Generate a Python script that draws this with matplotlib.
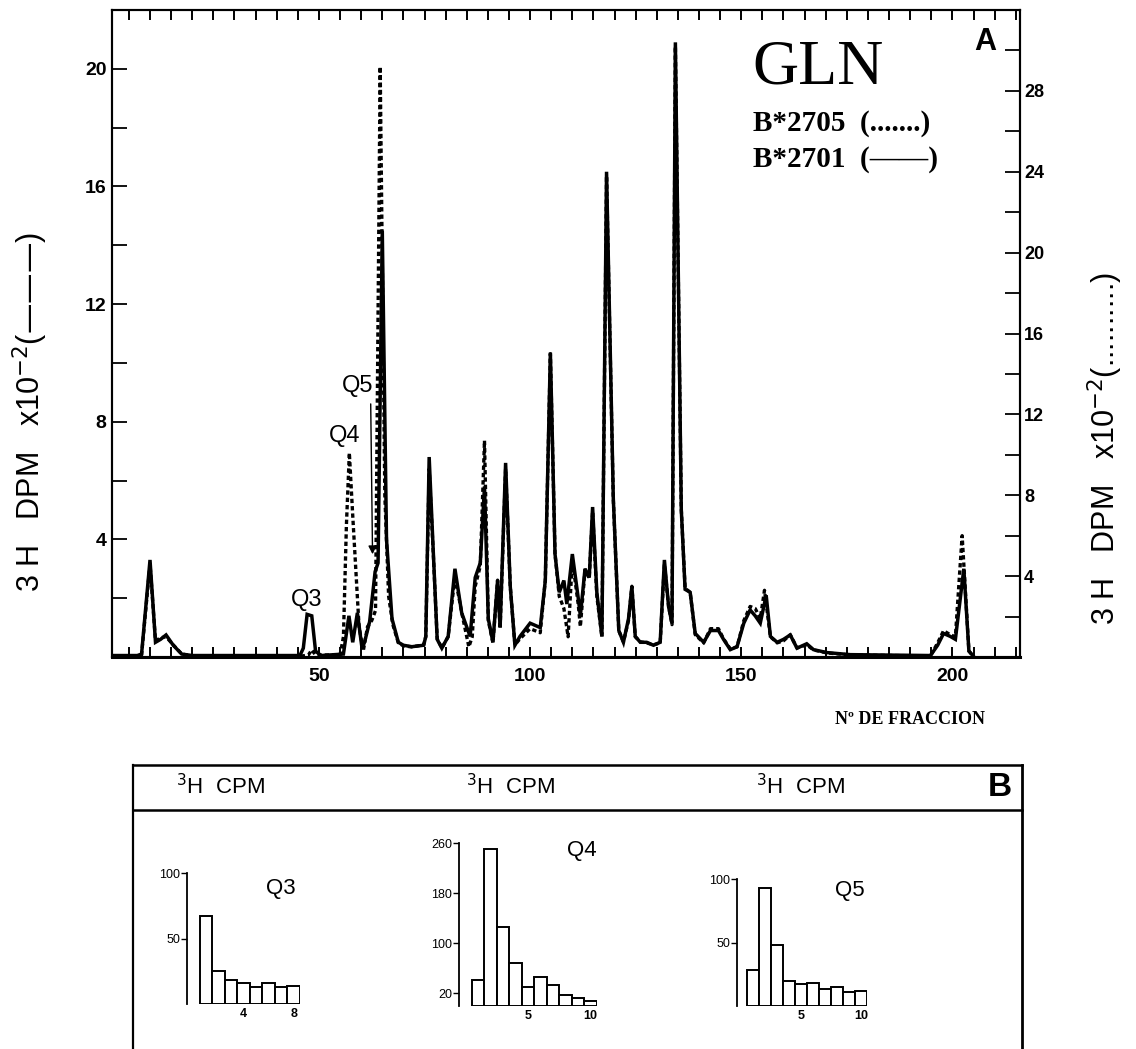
import numpy as np
import matplotlib.pyplot as plt
from matplotlib.lines import Line2D

# solid curve B*2701 (left axis, DPM x10^-2)
frac_solid = [1, 7, 8, 10, 11.3, 12.5, 13.8, 15.5, 17.5, 20, 45.5, 46.3, 47.2, 48.3, 49.2, 50.5,
              55.8, 56.6, 57.1, 58, 59.1, 60.2, 60.8, 62, 63.3, 64, 65, 66, 67.3, 68.8, 70, 72,
              74.8, 75.3, 76.1, 77.1, 78, 79.1, 80.6, 82.2, 83.8, 85.8, 87, 88.2, 89.2, 90.1,
              91.2, 92.3, 92.9, 94.2, 95.3, 96.4, 97.6, 100, 102.4, 103.6, 104.8, 105.9, 106.9,
              108, 108.7, 110, 111.4, 111.9, 113, 114, 114.8, 115.8, 117, 118.1, 119.7, 121,
              122.1, 123.3, 124.1, 124.9, 126.1, 127.6, 129.2, 130.8, 131.8, 132.8, 133.6, 134.4,
              135.8, 136.7, 137.9, 139.1, 141.1, 142.7, 144.6, 145.8, 147.4, 149, 150.6, 152.1,
              153.3, 154.5, 155.9, 156.9, 158.5, 160, 161.6, 163.2, 165.5, 167.1, 170.3, 175.8,
              194.8, 196.5, 197.9, 199.5, 200.7, 202.7, 203.9, 205]
val_solid = [0.05, 0.05, 0.1, 3.3, 0.5, 0.6, 0.75, 0.4, 0.1, 0.05, 0.05, 0.3, 1.45, 1.4, 0.2, 0.05,
             0.1, 0.9, 1.4, 0.5, 1.5, 0.3, 0.5, 1.2, 2.9, 3.2, 14.5, 4.0, 1.3, 0.5, 0.4, 0.35,
             0.4, 0.7, 6.8, 3.5, 0.6, 0.3, 0.7, 3.0, 1.5, 0.7, 2.7, 3.2, 5.8, 1.3,
             0.5, 2.6, 1.0, 6.6, 2.4, 0.4, 0.7, 1.15, 1.0, 2.6, 10.35, 3.5, 2.2,
             2.6, 1.8, 3.5, 2.0, 1.4, 3.0, 2.7, 5.1, 2.2, 0.7, 16.5, 5.4, 0.9,
             0.5, 1.3, 2.4, 0.7, 0.5, 0.5, 0.4, 0.5, 3.3, 1.7, 1.15, 20.9,
             5.0, 2.3, 2.2, 0.8, 0.5, 0.9, 0.9, 0.6, 0.25, 0.35, 1.15, 1.6,
             1.4, 1.15, 2.1, 0.7, 0.5, 0.6, 0.75, 0.3, 0.45, 0.25, 0.15, 0.08,
             0.05, 0.4, 0.8, 0.7, 0.6, 3.0, 0.2, 0.02]

# dotted curve B*2705 (right axis, DPM x10^-2)
frac_dot = [1, 7, 8, 10, 11.3, 12.5, 13.8, 15.5, 17.5, 20, 46, 47.5, 48.3, 49.2, 55, 55.8, 56.5,
            57.2, 58, 59.5, 60.5, 61.5, 62.5, 63.4, 64.5, 65.6, 66.5, 67.5, 68.8, 70, 72, 74.8,
            75.3, 76.1, 77.1, 78, 79.1, 80.6, 82.2, 83.8, 85.5, 86.3, 87, 88.2, 89.2, 90.1,
            91.2, 92.3, 92.9, 94.2, 95.3, 96.4, 97.6, 100, 102.4, 103.6, 104.8, 105.9, 106.9,
            108, 109, 110, 111.4, 111.9, 113, 114, 114.8, 115.8, 117, 118.1, 119.7, 121,
            122.1, 123.3, 124.1, 124.9, 126.1, 127.6, 129.2, 130.8, 131.8, 132.8, 133.6, 134.4,
            135.8, 136.7, 137.9, 139.1, 141.1, 142.7, 144.6, 145.8, 147.4, 149, 150.6, 152.1,
            153.3, 154.5, 155.5, 156.9, 158.5, 160, 161.6, 163.2, 165.5, 167.1, 170.3, 175.8,
            194.8, 196.5, 197.9, 199.5, 200.7, 202.3, 203.9, 205]
val_dot = [0.05, 0.05, 0.1, 4.6, 0.8, 0.95, 1.0, 0.6, 0.15, 0.05, 0.05, 0.1, 0.35, 0.1, 0.1, 1.0, 6.5,
           10.1, 7.0, 1.5, 0.3, 1.5, 1.8, 2.3, 29.2, 8.0, 3.0, 1.6, 0.7, 0.55, 0.5, 0.6,
           1.0, 9.3, 5.0, 0.9, 0.45, 1.0, 4.0, 2.2, 0.5, 1.0, 3.5, 4.5, 10.7, 1.8,
           0.7, 3.8, 1.4, 9.3, 3.5, 0.6, 0.9, 1.4, 1.2, 3.8, 15.0, 5.1, 3.0,
           2.4, 1.0, 4.8, 2.6, 1.5, 4.3, 3.9, 7.2, 3.0, 1.0, 23.8, 7.8, 1.3,
           0.75, 1.8, 3.5, 1.0, 0.75, 0.7, 0.6, 0.7, 4.6, 2.5, 1.6, 30.2,
           7.3, 3.4, 3.2, 1.1, 0.7, 1.4, 1.4, 0.9, 0.4, 0.5, 1.8, 2.5,
           2.4, 1.9, 3.3, 1.0, 0.7, 0.8, 1.1, 0.45, 0.6, 0.35, 0.2, 0.1,
           0.05, 0.7, 1.3, 1.1, 1.0, 6.0, 0.3, 0.02]

# panel B histograms (3H CPM per fraction)
q3_cpm = [67, 25, 18, 16, 13, 16, 13, 14]
q4_cpm = [42, 250, 126, 68, 31, 47, 33, 17, 12, 8]
q5_cpm = [28, 93, 48, 20, 17, 18, 13, 15, 11, 12]

W, H = 1136, 1049
fig = plt.figure(figsize=(W / 100, H / 100), dpi=100)
sans = 'Liberation Sans'
serif = 'Liberation Serif'


def px_axes(x0, y0, x1, y1):
    return fig.add_axes([x0 / W, 1 - y1 / H, (x1 - x0) / W, (y1 - y0) / H])


def fig_line(xs, ys, lw=1.6):
    fig.add_artist(Line2D([x / W for x in xs], [1 - y / H for y in ys],
                          transform=fig.transFigure, color='k', lw=lw))


# ---- panel A ----
ax = px_axes(112, 10, 1020, 657)
ax.plot(frac_solid, val_solid, color='k', lw=2.5, solid_joinstyle='miter')
ax.set_xlim(1, 216)
ax.set_ylim(0, 22)
ax2 = ax.twinx()
ax2.plot(frac_dot, val_dot, color='k', lw=2.4, linestyle=(0, (1.3, 0.9)))
ax2.set_ylim(0, 32)

xt = np.arange(5, 216, 5)
ax.set_xticks(xt)
ax.set_xticklabels([str(t) if t % 50 == 0 else '' for t in xt],
                   fontfamily=sans, fontweight='bold', fontsize=14)
ax.tick_params(axis='x', direction='in', length=7, width=1.4, top=True, pad=8)
yt = np.arange(2, 22, 2)
ax.set_yticks(yt)
ax.set_yticklabels([str(t) if t % 4 == 0 else '' for t in yt],
                   fontfamily=sans, fontweight='bold', fontsize=14)
ax.tick_params(axis='y', direction='in', length=11, width=1.3, pad=4)
yt2 = np.arange(2, 32, 2)
ax2.set_yticks(yt2)
ax2.set_yticklabels([str(t) if t % 4 == 0 and t < 30 else '' for t in yt2],
                    fontfamily=sans, fontweight='bold', fontsize=13)
ax2.tick_params(axis='y', direction='in', length=11, width=1.3, pad=3)
for a in (ax, ax2):
    for s in a.spines.values():
        s.set_linewidth(1.5)
ax.spines['bottom'].set_linewidth(2.2)

ax.text(47.2, 1.95, 'Q3', fontfamily=sans, fontsize=17, ha='center', va='center')
ax.text(56.2, 7.5, 'Q4', fontfamily=sans, fontsize=17, ha='center', va='center')
ax.text(59.2, 9.2, 'Q5', fontfamily=sans, fontsize=17, ha='center', va='center')
ax.annotate('', xy=(62.7, 3.4), xytext=(62.25, 8.7),
            arrowprops=dict(arrowstyle='-|>', color='k', lw=1.0, mutation_scale=12))

fig.text(752 / W, 1 - 68 / H, 'GLN', fontfamily=serif, fontsize=46, ha='left', va='center')
fig.text(753 / W, 1 - 131 / H, 'B*2705  (.......)', fontfamily=serif, fontweight='bold',
         fontsize=21, ha='left', va='baseline')
fig.text(753 / W, 1 - 167 / H, 'B*2701  (\u2014\u2014)', fontfamily=serif, fontweight='bold',
         fontsize=21, ha='left', va='baseline')
fig.text(985 / W, 1 - 42 / H, 'A', fontfamily=sans, fontweight='bold', fontsize=22,
         ha='center', va='center')

fig.text(30 / W, 1 - 412 / H, '3 H   DPM   x10$^{-2}$(\u2014\u2014\u2014)', fontfamily=sans,
         fontsize=22, rotation=90, ha='center', va='center')
fig.text(1105 / W, 1 - 448 / H, '3 H   DPM   x10$^{-2}$(..........)', fontfamily=sans,
         fontsize=22, rotation=90, ha='center', va='center')
fig.text(910 / W, 1 - 720 / H, 'N\u00ba DE FRACCION', fontfamily=serif, fontweight='bold',
         fontsize=13, ha='center', va='center')

# ---- panel B ----
fig_line([133, 1022], [765, 765], lw=1.8)
fig_line([133, 1022], [810, 810], lw=1.8)
fig_line([133, 133], [765, 1049], lw=1.6)
fig_line([1022, 1022], [765, 1049], lw=2.0)
for cx in (220, 510, 800):
    fig.text(cx / W, 1 - 787 / H, '$^3$H  CPM', fontfamily=sans, fontsize=16,
             ha='center', va='center')
fig.text(1000 / W, 1 - 788 / H, 'B', fontfamily=sans, fontweight='bold', fontsize=24,
         ha='center', va='center')

insets = [
    (q3_cpm, (187, 873, 300, 1004), (-0.5, 8.5), (0, 100), [50, 100], [4, 8], 'Q3', (7.0, 88)),
    (q4_cpm, (459, 843, 597, 1006), (-0.5, 10.5), (0, 260), [20, 100, 180, 260], [5, 10], 'Q4', (9.3, 248)),
    (q5_cpm, (737, 879, 867, 1006), (-0.3, 10.5), (0, 100), [50, 100], [5, 10], 'Q5', (9.1, 91)),
]
for vals, box, xl, yl, yticks, xticks, name, pos in insets:
    bx = px_axes(*box)
    bx.bar(np.arange(1, len(vals) + 1), vals, width=1.0, color='white', edgecolor='k', lw=1.4)
    bx.set_xlim(*xl)
    bx.set_ylim(*yl)
    for s in ('top', 'right', 'bottom'):
        bx.spines[s].set_visible(False)
    bx.spines['left'].set_linewidth(1.3)
    bx.set_yticks(yticks)
    bx.set_yticklabels([str(t) for t in yticks], fontfamily=sans, fontsize=9)
    bx.tick_params(axis='y', direction='out', length=4, width=1.0, pad=1)
    bx.set_xticks(xticks)
    bx.set_xticklabels([str(t) for t in xticks], fontfamily=sans, fontweight='bold', fontsize=9)
    bx.tick_params(axis='x', length=0, pad=3)
    bx.patch.set_alpha(0)
    bx.text(pos[0], pos[1], name, fontfamily=sans, fontsize=16, ha='center', va='center')

fig.savefig('out.png', dpi=100)
